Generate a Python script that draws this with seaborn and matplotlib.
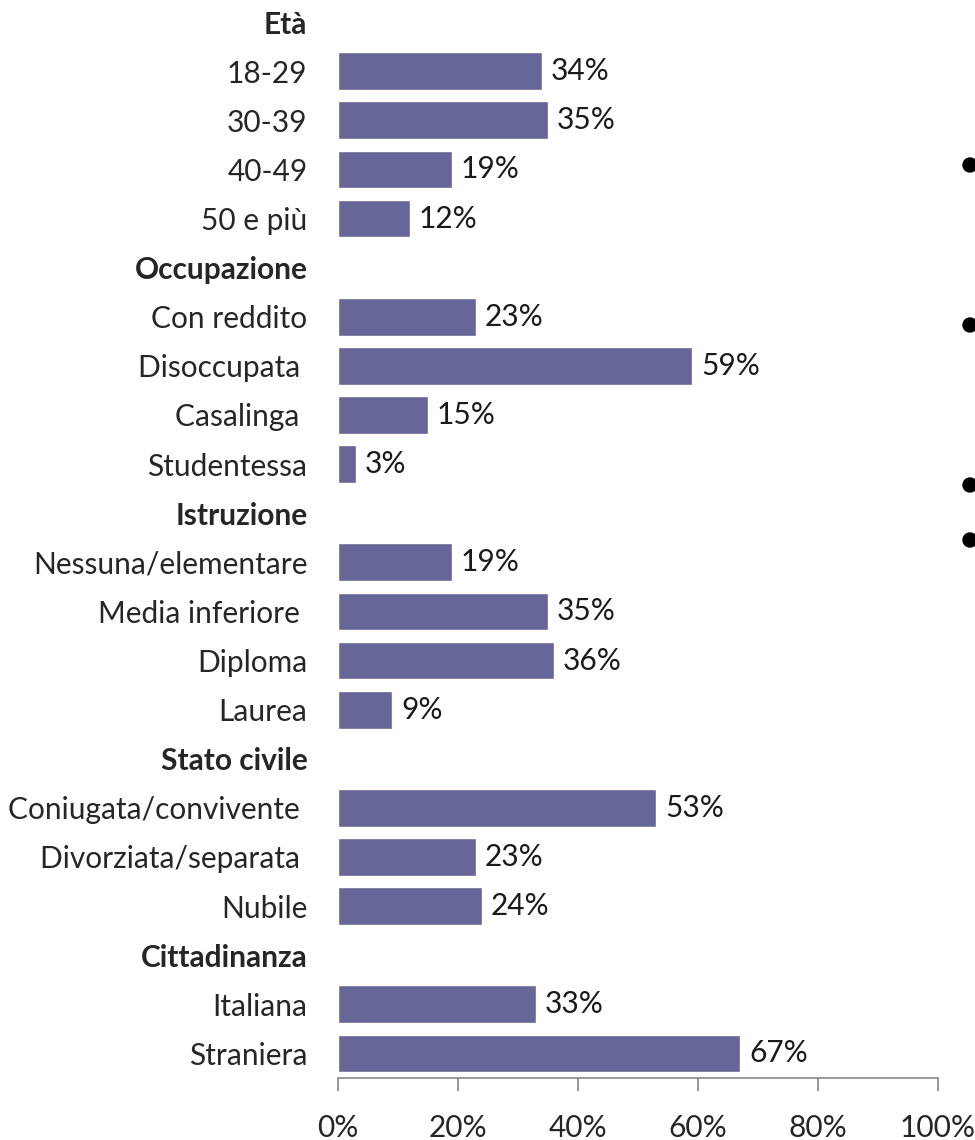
import matplotlib
matplotlib.use("Agg")
import matplotlib.pyplot as plt
import numpy as np
import pandas as pd
import seaborn as sns
from matplotlib.ticker import PercentFormatter
from matplotlib.patches import Ellipse

# groups and their categories (values in %)
groups = ["Età", "Occupazione", "Istruzione", "Stato civile", "Cittadinanza"]
eta_labels = ["18-29", "30-39", "40-49", "50 e più"]
eta_values = [34, 35, 19, 12]
occ_labels = ["Con reddito", "Disoccupata ", "Casalinga ", "Studentessa"]
occ_values = [23, 59, 15, 3]
istr_labels = ["Nessuna/elementare", "Media inferiore ", "Diploma", "Laurea"]
istr_values = [19, 35, 36, 9]
civ_labels = ["Coniugata/convivente ", "Divorziata/separata ", "Nubile"]
civ_values = [53, 23, 24]
citt_labels = ["Italiana", "Straniera"]
citt_values = [33, 67]

blocks = [(eta_labels, eta_values), (occ_labels, occ_values), (istr_labels, istr_values),
          (civ_labels, civ_values), (citt_labels, citt_values)]

rows = []
for g, (labs, vals) in zip(groups, blocks):
    rows.append({"label": g, "value": np.nan, "header": True})
    for l, v in zip(labs, vals):
        rows.append({"label": l, "value": v, "header": False})
df = pd.DataFrame(rows)
order = list(df["label"])

sns.set_style("white")
plt.rcParams["font.family"] = ["Lato", "DejaVu Sans"]

fig = plt.figure(figsize=(9.75, 11.4), dpi=100)
ax = fig.add_axes([338 / 975, 1 - 1078 / 1140, 600 / 975, 1078 / 1140])

bar_color = "#666699"
sns.barplot(data=df.dropna(), x="value", y="label", order=order, color=bar_color,
            width=0.77, saturation=1, ax=ax)

ax.set_xlim(0, 100)
ax.set_ylim(len(order) - 0.5, -0.45)
ax.set_xlabel("")
ax.set_ylabel("")
ax.set_xticks([0, 20, 40, 60, 80, 100])
ax.xaxis.set_major_formatter(PercentFormatter(decimals=0))

fs = 21.5
ax.tick_params(axis="x", direction="out", length=9, width=1.2, color="#868686",
               labelsize=fs, pad=17, bottom=True)
ax.tick_params(axis="y", length=0, labelsize=fs, pad=22)

for t, h in zip(ax.get_yticklabels(), df["header"]):
    if h:
        t.set_fontweight("bold")

for s in ["top", "right", "left"]:
    ax.spines[s].set_visible(False)
ax.spines["bottom"].set_color("#868686")
ax.spines["bottom"].set_linewidth(1.2)

# value labels
for i, (lab, v) in enumerate(zip(df["label"], df["value"])):
    if not np.isnan(v):
        ax.text(v + 1.5, i, f"{int(v)}%", va="center", ha="left", fontsize=fs, color="#1a1a1a")

# slide bullets cut at the right edge
for yb in [165, 325, 485, 540]:
    fig.add_artist(Ellipse((970 / 975, 1 - yb / 1140), 14 / 975, 14 / 1140,
                           transform=fig.transFigure, color="black"))

fig.savefig("out.png", dpi=100)
